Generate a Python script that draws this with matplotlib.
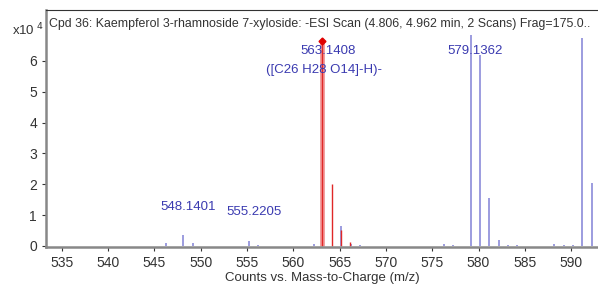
import numpy as np
import matplotlib.pyplot as plt

plt.rcParams['font.family'] = ['Liberation Sans', 'DejaVu Sans']

# picos azules (m/z, cuentas x10^4)
mz_azul = [546.2, 548.14, 549.2, 555.22, 556.2, 562.2, 565.2, 566.2, 567.2,
           576.3, 577.2, 579.14, 580.14, 581.14, 582.2, 583.2, 584.2,
           588.2, 589.2, 590.2, 591.2, 592.2]
int_azul = [0.10, 0.35, 0.08, 0.17, 0.04, 0.05, 0.65, 0.05, 0.03,
            0.06, 0.03, 6.85, 6.2, 1.55, 0.2, 0.04, 0.04,
            0.05, 0.04, 0.04, 6.75, 2.05]

# picos del compuesto (rojo)
mz_rojo = [563.14, 564.14, 565.14, 566.15]
int_rojo = [6.65, 2.02, 0.52, 0.12]

etiquetas = [
    (548.1401, 1.05, "548.1401"),
    (555.2205, 0.9, "555.2205"),
    (579.1362, 6.12, "579.1362"),
]

azul_txt = "#3a3ab0"
gris_txt = "#333333"

fig = plt.figure(figsize=(5.98, 2.86), dpi=100)
ax = fig.add_axes([0.077, 0.135, 0.923, 0.83])

ax.vlines(mz_azul, 0, int_azul, colors="#9494dc", linewidth=1.3)
ax.vlines(mz_rojo[0], 0, int_rojo[0], colors="#f29a9a", linewidth=3.5)
ax.vlines(mz_rojo, 0, int_rojo, colors="#e02828", linewidth=1.0)
ax.plot(mz_rojo[0], int_rojo[0], marker="D", color="#e00000", markersize=3.5)

for x, y, t in etiquetas:
    ax.text(x + 0.5, y, t, color=azul_txt, fontsize=9.5, ha="center",
            va="bottom")
ax.text(mz_rojo[0] + 0.6, 6.12, "563.1408", color=azul_txt, fontsize=9.5,
        ha="center", va="bottom")
ax.text(mz_rojo[0] + 0.2, 5.5, "([C26 H28 O14]-H)-", color=azul_txt,
        fontsize=9.5, ha="center", va="bottom")

ax.text(0.005, 0.965, "Cpd 36: Kaempferol 3-rhamnoside 7-xyloside: -ESI Scan "
        "(4.806, 4.962 min, 2 Scans) Frag=175.0..", transform=ax.transAxes,
        fontsize=8.9, color=gris_txt, va="top", ha="left")
fig.text(0.02, 0.877, r"x10$^{\ 4}$", fontsize=9.5, color=gris_txt)

ax.set_xlim(533.3, 592.9)
ax.set_ylim(-0.05, 7.65)
ax.set_xticks(np.arange(535, 591, 5))
ax.set_yticks(np.arange(0, 7, 1))
ax.set_xlabel("Counts vs. Mass-to-Charge (m/z)", fontsize=9.5, color=gris_txt,
              labelpad=1)
ax.tick_params(labelsize=10, colors=gris_txt, length=3)

ax.spines["right"].set_visible(False)
ax.spines["left"].set_color("#888888")
ax.spines["left"].set_linewidth(1.8)
ax.spines["bottom"].set_color("#888888")
ax.spines["bottom"].set_linewidth(1.8)
ax.spines["top"].set_color(gris_txt)
ax.spines["top"].set_linewidth(0.8)

plt.savefig("out.png", dpi=100)
